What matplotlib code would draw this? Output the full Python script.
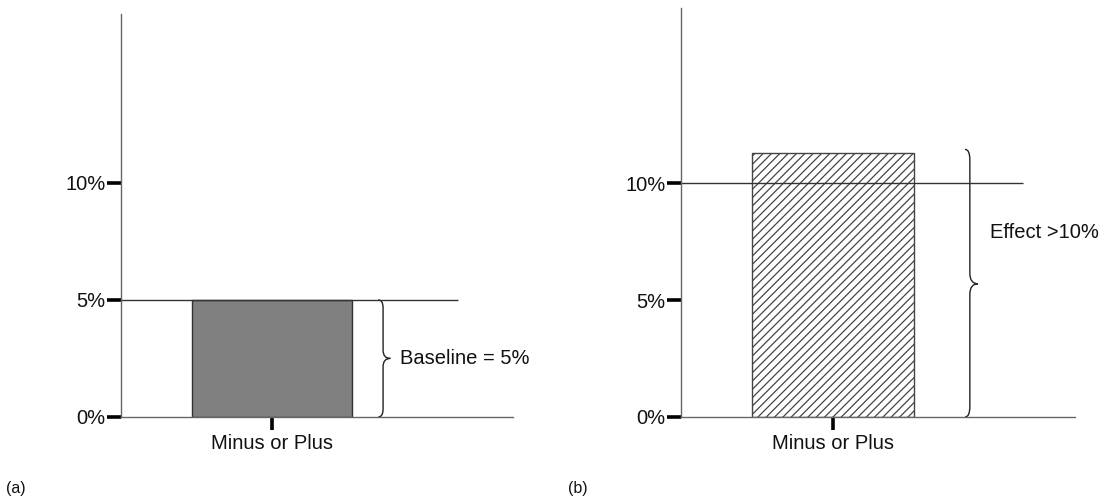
import numpy as np
import matplotlib.pyplot as plt
from matplotlib.path import Path
import matplotlib.patches as mpatches

plt.rcParams['font.family'] = ['Liberation Sans', 'DejaVu Sans']
plt.rcParams['hatch.linewidth'] = 0.9

# data
categories = ['Minus or Plus']
baseline = [5.0]
effect = [11.3]
ytick_vals = [0, 5, 10]
ytick_labels = ['0%', '5%', '10%']
panel_labels = ['(a)', '(b)']


def brace(ax, x, y0, y1, ytip, curl=0.03, tip=0.045, r=0.35):
    # curly brace pointing right, spine at x, from y0 to y1
    verts = [
        (x - curl, y0), (x, y0), (x, y0 + r),
        (x, ytip - r), (x, ytip), (x + tip, ytip),
        (x, ytip), (x, ytip + r),
        (x, y1 - r), (x, y1), (x - curl, y1),
    ]
    codes = [Path.MOVETO, Path.CURVE3, Path.CURVE3,
             Path.LINETO, Path.CURVE3, Path.CURVE3,
             Path.CURVE3, Path.CURVE3,
             Path.LINETO, Path.CURVE3, Path.CURVE3]
    ax.add_patch(mpatches.PathPatch(Path(verts, codes), fill=False,
                                    edgecolor='#222222', lw=1.0))


def style_axes(ax, ytop):
    for s in ['top', 'right']:
        ax.spines[s].set_visible(False)
    for s in ['left', 'bottom']:
        ax.spines[s].set_color('#666666')
        ax.spines[s].set_linewidth(1.0)
    ax.set_ylim(0, ytop)
    ax.set_yticks(ytick_vals)
    ax.set_yticklabels(ytick_labels)
    ax.set_xticks([0])
    ax.set_xticklabels(categories)
    ax.tick_params(axis='y', length=10, width=2.6, color='black', pad=1,
                   labelsize=14.5, labelcolor='#111111')
    ax.tick_params(axis='x', length=9, width=2.6, color='black', pad=3,
                   labelsize=14.5, labelcolor='#111111')


fig = plt.figure(figsize=(11.05, 5.03), dpi=100)

# (a) baseline
ax1 = fig.add_axes([121 / 1105, 1 - 417 / 503, 392 / 1105, 403 / 503])
ax1.bar([0], baseline, width=1.0, color='#808080', edgecolor='#333333', lw=1.0)
ax1.set_xlim(-0.938, 1.497)
style_axes(ax1, 17.2)
ax1.hlines(baseline[0], -0.938, 1.155, color='#333333', lw=1.0)
brace(ax1, 0.69, 0, baseline[0], baseline[0] / 2)
ax1.text(0.795, baseline[0] / 2, 'Baseline = 5%', fontsize=14.5,
         va='center', ha='left', color='#111111')

# (b) effect
ax2 = fig.add_axes([681 / 1105, 1 - 417 / 503, 394 / 1105, 409 / 503])
ax2.bar([0], effect, width=1.0, color='white', edgecolor='#444444',
        hatch='////', lw=1.0)
ax2.set_xlim(-0.944, 1.503)
style_axes(ax2, 17.5)
ax2.hlines(10, -0.944, 1.18, color='#333333', lw=1.0)
brace(ax2, 0.85, 0, 11.45, 5.7, curl=0.03, tip=0.05, r=0.45)
ax2.text(0.975, 7.9, 'Effect >10%', fontsize=14.5,
         va='center', ha='left', color='#111111')

fig.text(0.005, 0.02, panel_labels[0], fontsize=11.5, color='#111111')
fig.text(0.514, 0.02, panel_labels[1], fontsize=11.5, color='#111111')

fig.savefig('out.png', dpi=100)
